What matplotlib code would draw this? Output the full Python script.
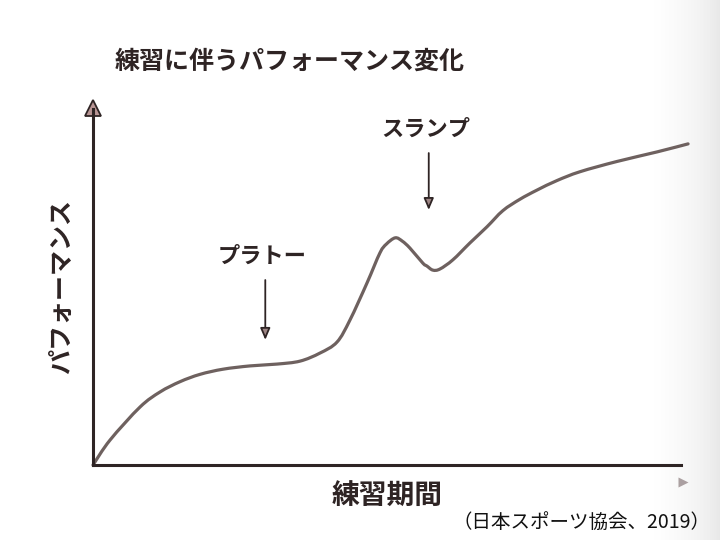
import matplotlib
matplotlib.use('Agg')
import matplotlib.pyplot as plt
from matplotlib.path import Path
from matplotlib.patches import PathPatch
import numpy as np

plt.rcParams['font.family'] = ['Noto Sans CJK JP', 'DejaVu Sans']

# performance curve (x: training period, y: performance, 0-10 scale)
period = [0.00, 0.29, 0.80, 1.14, 1.48, 1.82, 2.21, 2.67, 3.13, 3.52, 3.86, 4.15,
          4.37, 4.66, 4.88, 4.99, 5.14, 5.26, 5.39, 5.61, 5.68, 5.78, 5.90, 6.12,
          6.41, 6.70, 6.97, 7.26, 7.55, 7.89, 8.28, 8.91, 9.59, 10.12]
performance = [0.00, 0.68, 1.58, 1.99, 2.27, 2.47, 2.61, 2.70, 2.75, 2.83, 3.05, 3.35,
               3.95, 4.96, 5.78, 6.02, 6.19, 6.10, 5.91, 5.50, 5.42, 5.31, 5.34, 5.59,
               6.05, 6.49, 6.93, 7.24, 7.49, 7.75, 7.99, 8.27, 8.53, 8.75]

title = '練習に伴うパフォーマンス変化'
xlabel = '練習期間'
ylabel = 'パフォーマンス'
source = '（日本スポーツ協会、2019）'
notes = ['プラトー', 'スランプ']
note_x = [2.93, 5.71]
note_top = [5.04, 8.50]
note_tip = [3.41, 6.95]

ink = '#2e2424'
curve_col = '#6e615f'


def smooth_path(xs, ys):
    # catmull-rom through the read points, handed to matplotlib as bezier segments
    p = np.column_stack([xs, ys])
    verts = [p[0]]
    codes = [Path.MOVETO]
    for i in range(len(p) - 1):
        p0 = p[i - 1] if i > 0 else p[i]
        p3 = p[i + 2] if i + 2 < len(p) else p[i + 1]
        c1 = p[i] + (p[i + 1] - p0) / 6
        c2 = p[i + 1] - (p3 - p[i]) / 6
        verts += [c1, c2, p[i + 1]]
        codes += [Path.CURVE4] * 3
    return Path(verts, codes)


fig = plt.figure(figsize=(7.2, 5.4), dpi=100)
fig.patch.set_facecolor('white')

# scanned page shading on the right edge
bg = fig.add_axes([0.9, 0, 0.1, 1])
bg.imshow(np.linspace(0, 1, 50)[None, :] ** 1.5, aspect='auto', cmap='Greys',
          vmin=0, vmax=6, extent=[0, 1, 0, 1])
bg.axis('off')

ax = fig.add_axes([93 / 720, 75 / 540, 588 / 720, 367 / 540])
ax.set_xlim(0, 10)
ax.set_ylim(0, 10)
ax.patch.set_alpha(0)
for s in ['top', 'right']:
    ax.spines[s].set_visible(False)
for s in ['left', 'bottom']:
    ax.spines[s].set_linewidth(2.2)
    ax.spines[s].set_color(ink)
ax.spines['left'].set_bounds(0, 9.7)
ax.set_xticks([])
ax.set_yticks([])

# y axis arrow head
ax.plot([0], [9.72], marker='^', ms=11, mfc='#b89594', mec=ink, mew=1.3, clip_on=False)
# faint x axis arrow head (shifted in the scan)
ax.plot([10.03], [-0.46], marker='>', ms=7, mfc='#8a7a7c', mec='none', alpha=0.7, clip_on=False)

ax.add_patch(PathPatch(smooth_path(period, performance), fc='none', ec=curve_col,
                       lw=2.3, capstyle='round', joinstyle='round', clip_on=False))

for label, x, top, tip in zip(notes, note_x, note_top, note_tip):
    ax.annotate('', xy=(x, tip), xytext=(x, top),
                arrowprops=dict(arrowstyle='-|>,head_length=0.7,head_width=0.3',
                                lw=1.3, color=ink, fc='#9d8584', shrinkA=0, shrinkB=0))
    ax.text(x - 0.05, top + 0.65, label, ha='center', va='center', fontsize=16,
            color=ink, weight='bold')

fig.text(115 / 720, 1 - 62 / 540, title, ha='left', va='center', fontsize=18,
         color=ink, weight='bold')
fig.text(62 / 720, 1 - 287 / 540, ylabel, ha='center', va='center', rotation=90,
         fontsize=18, color=ink, weight='bold')
fig.text(387 / 720, 1 - 497 / 540, xlabel, ha='center', va='center', fontsize=20,
         color=ink, weight='bold')
fig.text(581 / 720, 1 - 522 / 540, source, ha='center', va='center', fontsize=14,
         color='#111111')

fig.savefig('out.png', dpi=100)
